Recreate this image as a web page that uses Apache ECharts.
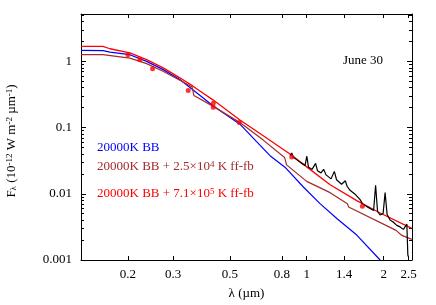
<!DOCTYPE html>
<html>
<head>
<meta charset="utf-8">
<script src="https://cdn.jsdelivr.net/npm/echarts@6/dist/echarts.min.js"></script>
<style>html,body{margin:0;padding:0;background:#fff}#c{width:436px;height:305px}</style>
</head>
<body>
<div id="c"></div>
<script>
// ---- data (wavelength in micron, flux in 1e-12 W m^-2 um^-1) ----
const bbLam  = [0.131, 0.16, 0.17, 0.2034, 0.2365, 0.2746, 0.319, 0.371, 0.431, 0.548, 0.627, 0.7185, 0.822, 0.970, 1.127, 1.311, 1.569, 1.936];
const bbFlux = [1.46, 1.45, 1.38, 1.26, 1.0, 0.75, 0.532, 0.336, 0.2115, 0.1125, 0.0652, 0.0376, 0.0252, 0.01265, 0.00711, 0.00424, 0.00238, 0.001];

const lowLam  = [0.131, 0.1595, 0.2034, 0.2365, 0.2742, 0.319, 0.356, 0.362, 0.431, 0.548, 0.676, 0.819, 0.834, 1.0, 1.234, 1.442, 1.458, 2.236, 2.354, 2.576];
const lowFlux = [1.26, 1.26, 1.12, 0.924, 0.708, 0.519, 0.41, 0.306, 0.209, 0.119, 0.0647, 0.0354, 0.0273, 0.0154, 0.0104, 0.0071, 0.0063, 0.0028, 0.00235, 0.00205];

const highLam  = [0.131, 0.1595, 0.17, 0.2034, 0.2365, 0.2746, 0.319, 0.359, 0.382, 0.431, 0.548, 0.676, 0.860, 1.0, 1.234, 1.569, 1.936, 2.576];
const highFlux = [1.68, 1.68, 1.55, 1.34, 1.06, 0.796, 0.564, 0.422, 0.357, 0.26, 0.1304, 0.0751, 0.0399, 0.0255, 0.01368, 0.00788, 0.00512, 0.0030];

const specLam  = [0.860, 0.874, 0.884, 0.916, 0.950, 0.985, 1.001, 1.016, 1.049, 1.083, 1.102, 1.137, 1.164, 1.19, 1.245, 1.282, 1.308, 1.368, 1.416, 1.438, 1.477, 1.545, 1.617, 1.651, 1.718, 1.785, 1.826, 1.859, 1.892, 1.936, 1.989, 2.025, 2.062, 2.118, 2.177, 2.25, 2.318, 2.388, 2.463, 2.485, 2.499];
const specFlux = [0.0376, 0.0413, 0.036, 0.0325, 0.0293, 0.0268, 0.0369, 0.0251, 0.0234, 0.0288, 0.0222, 0.0207, 0.0234, 0.0193, 0.0168, 0.0218, 0.0163, 0.0139, 0.0157, 0.013, 0.0113, 0.00986, 0.00816, 0.0071, 0.0064, 0.00588, 0.00558, 0.01345, 0.0054, 0.00478, 0.00503, 0.0104, 0.00486, 0.00402, 0.00375, 0.00333, 0.00316, 0.0029, 0.0035, 0.00119, 0.00112];

const photLam  = [0.2, 0.2226, 0.2495, 0.344, 0.431, 0.431, 0.545, 0.874, 1.65];
const photFlux = [1.26, 1.06, 0.77, 0.364, 0.232, 0.202, 0.119, 0.036, 0.00647];

const xTicks = [0.2, 0.3, 0.5, 0.8, 1, 1.4, 2, 2.5];
const xTickLabels = ['0.2', '0.3', '0.5', '0.8', '1', '1.4', '2', '2.5'];
const yTicks = [0.001, 0.01, 0.1, 1];
const yTickLabels = ['0.001', '0.01', '0.1', '1'];

const xMin = 0.131, xMax = 2.58, yMin = 0.001, yMax = 5.19;

// ---- build ----
const L = Math.log10;
const pairs = (a, b) => a.map((v, i) => [L(v), L(b[i])]);
const xTickVals = xTicks.map(L);
const yTickVals = yTicks.map(L);
const yMinor = [];
for (let e = -3; e <= 0; e++) for (let k = 2; k <= 9; k++) { const v = k * Math.pow(10, e); if (v < yMax) yMinor.push(L(v)); }
const nearestLabel = (v, vals, labs) => { let bi = 0, bd = 1e9; vals.forEach((t, i) => { const d = Math.abs(t - v); if (d < bd) { bd = d; bi = i; } }); return labs[bi]; };

const FONT = '"Liberation Serif", "Times New Roman", serif';
const AX = { onZero: false, lineStyle: { color: '#000', width: 1 } };

function xAx(pos, labels) {
  return {
    type: 'value', position: pos, min: L(xMin), max: L(xMax),
    axisLine: AX, splitLine: { show: false },
    axisTick: { show: true, inside: true, length: 4, customValues: xTickVals, lineStyle: { color: '#000' } },
    axisLabel: labels ? { show: true, customValues: xTickVals, margin: 8, color: '#000', fontFamily: FONT, fontSize: 13,
      formatter: v => nearestLabel(v, xTickVals, xTickLabels) } : { show: false }
  };
}
function yAx(pos, vals, len, labels, line) {
  return {
    type: 'value', position: pos, offset: 0, min: L(yMin), max: L(yMax),
    axisLine: line ? AX : { show: false, onZero: false }, splitLine: { show: false },
    axisTick: { show: true, inside: true, length: len, customValues: vals, lineStyle: { color: '#000' } },
    axisLabel: labels ? { show: true, customValues: yTickVals, margin: 9, color: '#000', fontFamily: FONT, fontSize: 13,
      formatter: v => nearestLabel(v, yTickVals, yTickLabels) } : { show: false }
  };
}

const xAxes = [xAx('bottom', true), xAx('top', false)];
xAxes[0].name = 'λ (µm)';
xAxes[0].nameLocation = 'middle';
xAxes[0].nameGap = 27;
xAxes[0].nameTextStyle = { fontFamily: FONT, fontSize: 13, color: '#000' };

const yAxes = [yAx('left', yTickVals, 5, true, true), yAx('left', yMinor, 3, false, false),
               yAx('right', yTickVals, 5, false, true), yAx('right', yMinor, 3, false, false)];

const lineS = (name, lam, flux, color, w) => ({
  name, type: 'line', data: pairs(lam, flux), showSymbol: false, symbol: 'none',
  lineStyle: { color, width: w }, itemStyle: { color }, animation: false, z: 2
});

const chart = echarts.init(document.getElementById('c'), null, { renderer: 'canvas' });
chart.setOption({
  animation: false,
  backgroundColor: '#fff',
  grid: { left: 81, right: 24, top: 14, bottom: 43, containLabel: false },
  xAxis: xAxes,
  yAxis: yAxes,
  series: [
    lineS('20000K BB', bbLam, bbFlux, '#0000ff', 1.2),
    lineS('20000K BB + 2.5e4 K ff-fb', lowLam, lowFlux, '#a52a2a', 1.2),
    lineS('20000K BB + 7.1e5 K ff-fb', highLam, highFlux, '#ff0000', 1.3),
    lineS('spectrum', specLam, specFlux, '#000000', 1.2),
    { name: 'photometry', type: 'scatter', data: pairs(photLam, photFlux), symbol: 'circle', symbolSize: 5,
      itemStyle: { color: '#ff0000' }, z: 5 }
  ],
  graphic: [
    { type: 'text', x: 12, y: 141, rotation: Math.PI / 2,
      style: { text: 'F{sub|λ} (10{sup|-12} W m{sup|-2} µm{sup|-1})', font: '13px ' + FONT, fill: '#000',
        align: 'center', verticalAlign: 'middle',
        rich: { sub: { fontSize: 9, fontFamily: FONT, verticalAlign: 'bottom', fill: '#000' },
                sup: { fontSize: 9, fontFamily: FONT, verticalAlign: 'top', fill: '#000' } } } },
    { type: 'text', x: 343, y: 61, style: { text: 'June 30', font: '13px ' + FONT, fill: '#000', verticalAlign: 'middle' } },
    { type: 'text', x: 97, y: 148, style: { text: '20000K BB', font: '13px ' + FONT, fill: '#0000ff', verticalAlign: 'middle' } },
    { type: 'text', x: 97, y: 167, style: { text: '20000K BB + 2.5×10{sup|4} K ff-fb', font: '13px ' + FONT, fill: '#a52a2a', verticalAlign: 'middle',
        rich: { sup: { fontSize: 9, fontFamily: FONT, verticalAlign: 'top', fill: '#a52a2a' } } } },
    { type: 'text', x: 97, y: 194, style: { text: '20000K BB + 7.1×10{sup|5} K ff-fb', font: '13px ' + FONT, fill: '#ff0000', verticalAlign: 'middle',
        rich: { sup: { fontSize: 9, fontFamily: FONT, verticalAlign: 'top', fill: '#ff0000' } } } }
  ]
});
</script>
</body>
</html>
